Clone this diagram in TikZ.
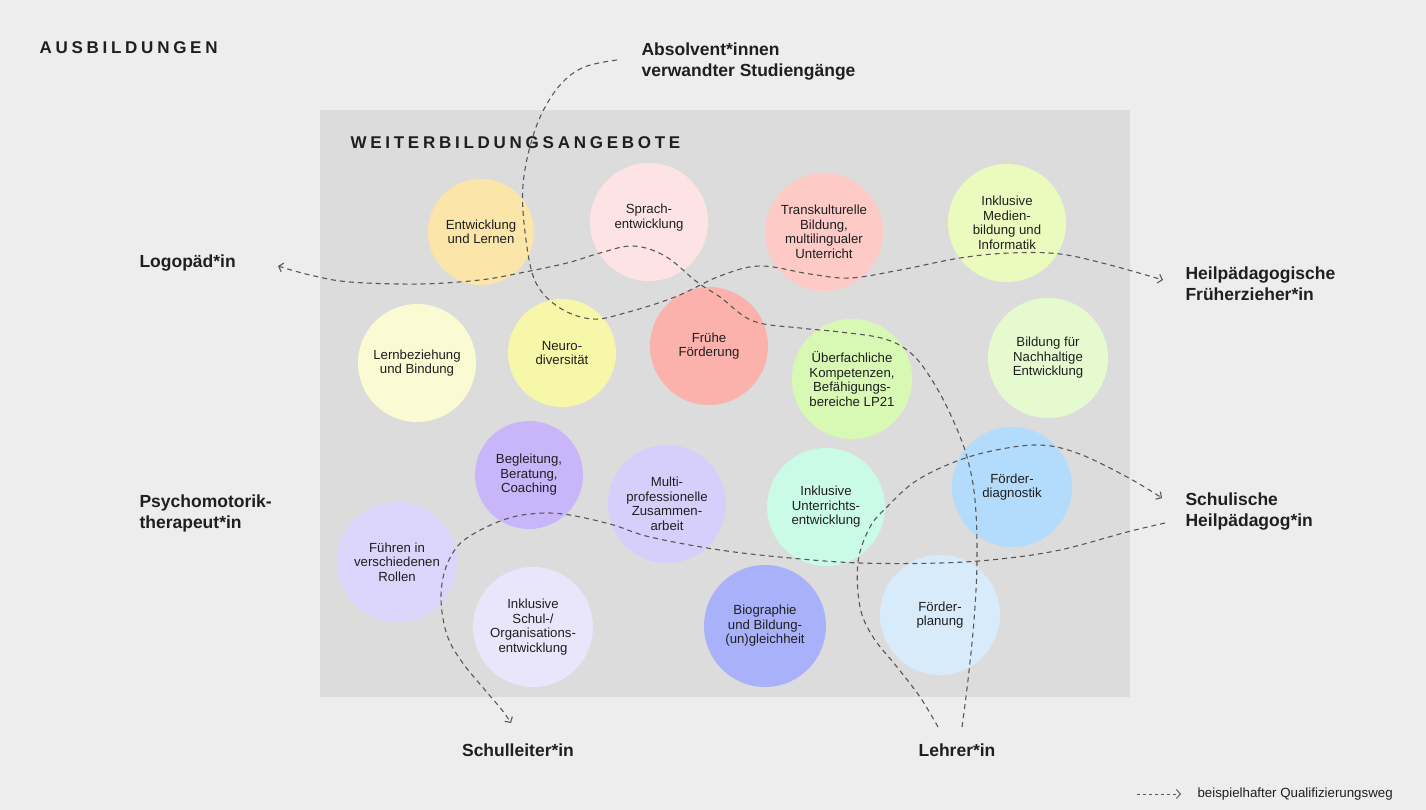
\documentclass[tikz,border=0pt]{standalone}
\usepackage{fontspec}
\setmainfont{Liberation Sans}
\newfontfamily\headfont[LetterSpace=22]{Liberation Sans}
\usetikzlibrary{arrows.meta}
\definecolor{bggray}{HTML}{EDEDED}
\definecolor{boxgray}{HTML}{DCDCDC}
\definecolor{ink}{HTML}{1F1F1F}
\definecolor{pathgray}{HTML}{575757}
\definecolor{cEntw}{HTML}{FBE5A8}
\definecolor{cSprach}{HTML}{FDE3E3}
\definecolor{cTrans}{HTML}{FDCAC6}
\definecolor{cMedien}{HTML}{EBFBBE}
\definecolor{cLern}{HTML}{FBFBD3}
\definecolor{cNeuro}{HTML}{F6F7A8}
\definecolor{cFrueh}{HTML}{FCB2AC}
\definecolor{cUeber}{HTML}{D8F9B4}
\definecolor{cBne}{HTML}{E5FBCF}
\definecolor{cBegl}{HTML}{C9B5FA}
\definecolor{cMulti}{HTML}{D6CFFB}
\definecolor{cUnterr}{HTML}{C9FBE6}
\definecolor{cDiag}{HTML}{B3DBFB}
\definecolor{cFuehr}{HTML}{DCD5FB}
\definecolor{cSchul}{HTML}{E9E6FB}
\definecolor{cBio}{HTML}{A9B1FA}
\definecolor{cPlan}{HTML}{D7EBFB}
\tikzset{
  topic/.style={circle, fill=#1, minimum size=118, inner sep=0pt, align=center,
    text=ink, font=\fontsize{13.2}{14.5}\selectfont},
  job/.style={anchor=west, align=left, text=ink, font=\bfseries\fontsize{17.5}{21}\selectfont},
  heading/.style={anchor=west, text=ink, font=\headfont\bfseries\fontsize{17}{20}\selectfont},
  route/.style={draw=pathgray, line width=1.1pt, dash pattern=on 5pt off 4pt,
    -{Straight Barb[length=4pt,width=9pt]}},
}
\begin{document}
\begin{tikzpicture}[x=1pt,y=-1pt]
      \fill[bggray] (0,0) rectangle (1426,810);
      \useasboundingbox (0,0) rectangle (1426,810);
      \fill[boxgray] (320,110) rectangle (1130,697);
      \node[heading] (ausb) at (36,48) {AUSBILDUNGEN};
      \node[heading] (weiter) at (347,143) {WEITERBILDUNGSANGEBOTE};
      % angebote
      \node[topic=cEntw, minimum size=106] (entw) at (481,232) {Entwicklung\\und Lernen};
      \node[topic=cSprach] (sprach) at (649,222) {Sprach-\\entwicklung\\[-2.5pt]};
      \node[topic=cTrans] (trans) at (824,232) {Transkulturelle\\Bildung,\\multilingualer\\Unterricht};
      \node[topic=cMedien] (medien) at (1007,223) {Inklusive\\Medien-\\bildung und\\Informatik};
      \node[topic=cLern] (lern) at (417,363) {Lernbeziehung\\und Bindung};
      \node[topic=cNeuro, minimum size=108] (neuro) at (562,353) {Neuro-\\diversität};
      \node[topic=cFrueh] (frueh) at (709,346) {Frühe\\Förderung};
      \node[topic=cUeber, minimum size=120] (ueber) at (852,379) {Überfachliche\\Kompetenzen,\\Befähigungs-\\bereiche LP21};
      \node[topic=cBne, minimum size=120] (bne) at (1048,358) {Bildung für\\Nachhaltige\\Entwicklung};
      \node[topic=cBegl, minimum size=108] (begl) at (529,475) {Begleitung,\\Beratung,\\Coaching};
      \node[topic=cMulti] (multi) at (667,504) {Multi-\\professionelle\\Zusammen-\\arbeit};
      \node[topic=cUnterr] (unterr) at (826,507) {Inklusive\\Unterrichts-\\entwicklung};
      \node[topic=cDiag, minimum size=120] (diag) at (1012,487) {Förder-\\diagnostik};
      \node[topic=cFuehr, minimum size=120] (fuehr) at (397,562) {Führen in\\verschiedenen\\Rollen};
      \node[topic=cSchul, minimum size=120] (schul) at (533,627) {Inklusive\\Schul-/\\Organisations-\\entwicklung};
      \node[topic=cBio, minimum size=122] (bio) at (765,626) {Biographie\\und Bildung-\\(un)gleichheit};
      \node[topic=cPlan, minimum size=120] (plan) at (940,615) {Förder-\\planung};
      % ausbildungen
      \node[job] (absolv) at (638,62) {Absolvent*innen\\verwandter Studiengänge};
      \node[job] (logo) at (136,263) {Logopäd*in};
      \node[job] (frueherz) at (1182,284) {Heilpädagogische\\Früherzieher*in};
      \node[job] (psycho) at (136,513) {Psychomotorik-\\therapeut*in};
      \node[job] (schulhp) at (1182,512) {Schulische\\Heilpädagog*in};
      \node[job, anchor=center] (leiter) at (518,750) {Schulleiter*in};
      \node[job, anchor=center] (lehrer) at (957,750) {Lehrer*in};
      \coordinate (absOut) at (617,60);
      \coordinate (fruIn) at (1163,280);
      \coordinate (logoIn) at (278,266);
      \coordinate (lehOutR) at (962,727);
      \coordinate (lehOutL) at (938,727);
      \coordinate (schIn) at (1162,498);
      \coordinate (schOut) at (1165,523);
      \coordinate (leitIn) at (511,723);
      % wege
      \draw[route] plot[smooth, tension=0.6] coordinates {(absOut) (582,68) (556,90) (535,130)
        (523,185) (526,240) (536,283) (560,308) (592,319) (625,313) (675,297) (720,276)
        (760,266) (810,274) (850,278) (900,270) (960,258) (1010,253) (1060,254) (1110,265) (fruIn)};
      \draw[route] plot[smooth, tension=0.6] coordinates {(lehOutR) (968,680) (974,620) (977,560)
        (975,500) (967,457) (953,420) (935,385) (913,355) (885,339) (840,332) (800,328)
        (753,321) (720,297) (697,282) (665,256) (633,246) (600,253) (567,263) (520,273)
        (480,280) (420,284) (350,282) (310,275) (logoIn)};
      \draw[route] plot[smooth, tension=0.6] coordinates {(lehOutL) (920,697) (897,667) (873,637)
        (860,607) (858,562) (870,527) (887,507) (913,483) (947,465) (987,452) (1037,445)
        (1077,453) (1127,477) (schIn)};
      \draw[route] plot[smooth, tension=0.6] coordinates {(schOut) (1127,532) (1060,550) (1000,559)
        (940,563) (860,563) (790,558) (720,550) (650,537) (610,524) (563,514) (530,514)
        (503,520) (475,533) (457,547) (445,570) (441,600) (447,635) (462,662) (485,690)
        (502,710) (leitIn)};
      % legende
      \coordinate (legA) at (1137,794);
      \coordinate (legB) at (1181,794);
      \draw[route, line width=0.9pt, dash pattern=on 3pt off 3pt] (legA) -- (legB);
      \node[anchor=west, text=ink, font=\fontsize{13.3}{16}\selectfont] (legtxt) at (1194,794) {beispielhafter Qualifizierungsweg};
\end{tikzpicture}
\end{document}
